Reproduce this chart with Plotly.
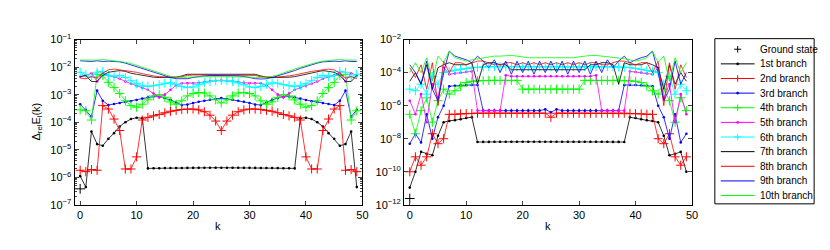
import plotly.graph_objects as go

k = list(range(50))

# ---------------- left panel data ----------------
L_ground = [3.8e-7]
L1 = [1.1e-6, 4.4e-7, 4.6e-5, 1.6e-5, 1.4e-5, 2.5e-5, 4e-5, 7e-5, 1.0e-4, 1.3e-4, 1.45e-4, 1.4e-4,
      2.1e-6, 2.12e-6, 2.13e-6, 2.15e-6, 2.16e-6, 2.17e-6, 2.18e-6, 2.19e-6, 2.2e-6, 2.2e-6, 2.21e-6,
      2.21e-6, 2.22e-6, 2.22e-6, 2.22e-6, 2.21e-6, 2.21e-6, 2.2e-6, 2.2e-6, 2.19e-6, 2.18e-6, 2.17e-6,
      2.16e-6, 2.15e-6, 2.13e-6, 2.12e-6, 2.1e-6, 1.4e-4, 1.45e-4, 1.3e-4, 1.0e-4, 7e-5, 4e-5, 2.5e-5,
      1.4e-5, 1.6e-5, 4.6e-5, 4.4e-7]
L2 = [1.8e-6, 1.6e-6, 1.9e-6, 1.8e-6, 4e-4, 3e-4, 1.3e-4, 5e-5, 2e-6, 2e-6, 5.5e-6, 1.2e-4, 1.5e-4,
      1.7e-4, 1.9e-4, 2.2e-4, 2.5e-4, 2.7e-4, 2.9e-4, 3e-4, 3e-4, 2.8e-4, 2.4e-4, 1.8e-4, 1.1e-4, 5e-5,
      1.1e-4, 1.8e-4, 2.4e-4, 2.8e-4, 3e-4, 3e-4, 2.9e-4, 2.7e-4, 2.5e-4, 2.2e-4, 1.9e-4, 1.7e-4, 1.5e-4,
      1.2e-4, 5.5e-6, 2e-6, 2e-6, 5e-5, 1.3e-4, 3e-4, 4e-4, 1.8e-6, 1.9e-6, 1.6e-6]
L3 = [4.5e-4, 2.8e-4, 1.6e-4, 1.4e-3, 6e-4, 4.2e-4, 4.6e-4, 5e-4, 5.4e-4, 5.8e-4, 6.4e-4, 7.2e-4, 8e-4,
      8.6e-4, 8.3e-4, 7.5e-4, 6.5e-4, 5.2e-4, 4.2e-4, 4.4e-4, 5e-4, 5.5e-4, 6e-4, 6.5e-4, 7e-4, 7.5e-4,
      7e-4, 6.5e-4, 6e-4, 5.5e-4, 5e-4, 4.4e-4, 4.2e-4, 5.2e-4, 6.5e-4, 7.5e-4, 8.3e-4, 8.6e-4, 8e-4,
      7.2e-4, 6.4e-4, 5.8e-4, 5.4e-4, 5e-4, 4.6e-4, 4.2e-4, 6e-4, 1.4e-3, 1.6e-4, 2.8e-4]
L4 = [2.8e-4, 2.6e-4, 1.2e-4, 5.5e-3, 5e-3, 2.8e-3, 1.8e-3, 1.1e-3, 6e-4, 4e-4, 3.5e-4, 4.5e-4, 6.5e-4,
      9e-4, 1.0e-3, 8e-4, 5.5e-4, 4.5e-4, 6e-4, 9e-4, 1.1e-3, 1.2e-3, 1.15e-3, 9e-4, 6.5e-4, 5e-4,
      6.5e-4, 9e-4, 1.15e-3, 1.2e-3, 1.1e-3, 9e-4, 6e-4, 4.5e-4, 5.5e-4, 8e-4, 1.0e-3, 9e-4, 6.5e-4,
      4.5e-4, 3.5e-4, 4e-4, 6e-4, 1.1e-3, 1.8e-3, 2.8e-3, 5e-3, 5.5e-3, 1.2e-4, 2.6e-4]
L5 = [4.5e-3, 5e-3, 6e-3, 3e-3, 6e-3, 5e-3, 4.5e-3, 3.8e-3, 3e-3, 2.5e-3, 2.1e-3, 1.8e-3, 1.5e-3,
      1.1e-3, 8e-4, 1.0e-3, 1.5e-3, 2.2e-3, 2.6e-3, 2.6e-3, 2.6e-3, 2.7e-3, 2.9e-3, 3.1e-3, 3.2e-3,
      3.3e-3, 3.2e-3, 3.1e-3, 2.9e-3, 2.7e-3, 2.6e-3, 2.6e-3, 2.6e-3, 2.2e-3, 1.5e-3, 1.0e-3, 8e-4,
      1.1e-3, 1.5e-3, 1.8e-3, 2.1e-3, 2.5e-3, 3e-3, 3.8e-3, 4.5e-3, 5e-3, 6e-3, 3e-3, 6e-3, 5e-3]
L6 = [6.5e-3, 5.5e-3, 4.5e-3, 6.5e-3, 7e-3, 5e-3, 4.5e-3, 5e-3, 4.2e-3, 3.2e-3, 2.5e-3, 2.1e-3, 2e-3,
      2.1e-3, 2.3e-3, 2.6e-3, 2.7e-3, 2.4e-3, 2e-3, 1.8e-3, 1.9e-3, 2.3e-3, 2.7e-3, 3e-3, 3.2e-3,
      3.3e-3, 3.2e-3, 3e-3, 2.7e-3, 2.3e-3, 1.9e-3, 1.8e-3, 2e-3, 2.4e-3, 2.7e-3, 2.6e-3, 2.3e-3,
      2.1e-3, 2e-3, 2.1e-3, 2.5e-3, 3.2e-3, 4.2e-3, 5e-3, 4.5e-3, 5e-3, 7e-3, 6.5e-3, 4.5e-3, 5.5e-3]
L7 = [4.5e-3, 5e-3, 3e-3, 3e-3, 5e-3, 6.5e-3, 7e-3, 7.5e-3, 7e-3, 6e-3, 5.5e-3, 5e-3, 4.5e-3, 4.3e-3,
      4.2e-3, 4.2e-3, 4.2e-3, 4.3e-3, 4.8e-3, 5.5e-3, 5.5e-3, 5.5e-3, 5.5e-3, 5.5e-3, 5.5e-3, 5.5e-3,
      5.5e-3, 5.5e-3, 5.5e-3, 5.5e-3, 5.5e-3, 5.5e-3, 4.8e-3, 4.3e-3, 4.2e-3, 4.2e-3, 4.2e-3, 4.3e-3,
      4.5e-3, 5e-3, 5.5e-3, 6e-3, 7e-3, 7.5e-3, 7e-3, 6.5e-3, 5e-3, 3e-3, 3e-3, 5e-3]
L8 = [4e-3, 3.8e-3, 4.5e-3, 4e-3, 6e-3, 8e-3, 8.5e-3, 8e-3, 7.5e-3, 7e-3, 6.5e-3, 5.8e-3, 5.2e-3,
      4.8e-3, 4.5e-3, 4.4e-3, 4.3e-3, 4.3e-3, 4.5e-3, 5e-3, 5.2e-3, 5.2e-3, 5.2e-3, 5.2e-3, 5.2e-3,
      5.2e-3, 5.2e-3, 5.2e-3, 5.2e-3, 5.2e-3, 5.2e-3, 5e-3, 4.5e-3, 4.3e-3, 4.3e-3, 4.4e-3, 4.5e-3,
      4.8e-3, 5.2e-3, 5.8e-3, 6.5e-3, 7e-3, 7.5e-3, 8e-3, 8.5e-3, 8e-3, 6e-3, 4e-3, 4.5e-3, 3.8e-3]
L9 = [1.7e-2, 1.6e-2, 1.6e-2, 1.7e-2, 1.6e-2, 1.65e-2, 1.6e-2, 1.55e-2, 1.4e-2, 1.2e-2, 1.05e-2, 9e-3,
      7.5e-3, 6.5e-3, 5.5e-3, 4.8e-3, 4.2e-3, 3.8e-3, 3.7e-3, 3.8e-3, 4.2e-3, 4.6e-3, 4.8e-3, 5e-3,
      5e-3, 5e-3, 5e-3, 5e-3, 4.8e-3, 4.6e-3, 4.2e-3, 3.8e-3, 3.7e-3, 3.8e-3, 4.2e-3, 4.8e-3, 5.5e-3,
      6.5e-3, 7.5e-3, 9e-3, 1.05e-2, 1.2e-2, 1.4e-2, 1.55e-2, 1.6e-2, 1.65e-2, 1.6e-2, 1.7e-2, 1.6e-2, 1.6e-2]
L10 = [1.8e-2, 1.8e-2, 1.75e-2, 1.8e-2, 1.9e-2, 1.8e-2, 1.75e-2, 1.65e-2, 1.5e-2, 1.35e-2, 1.15e-2,
       1e-2, 8.5e-3, 7e-3, 6e-3, 5.2e-3, 4.6e-3, 4.3e-3, 4.2e-3, 4.3e-3, 4.4e-3, 4.5e-3, 4.5e-3, 4.5e-3,
       4.5e-3, 4.5e-3, 4.5e-3, 4.5e-3, 4.5e-3, 4.5e-3, 4.4e-3, 4.3e-3, 4.2e-3, 4.3e-3, 4.6e-3, 5.2e-3,
       6e-3, 7e-3, 8.5e-3, 1e-2, 1.15e-2, 1.35e-2, 1.5e-2, 1.65e-2, 1.75e-2, 1.8e-2, 1.9e-2, 1.8e-2,
       1.75e-2, 1.8e-2]

# ---------------- right panel data ----------------
R_ground = [2.4e-12]
R1 = [1.1e-11, 1e-10, 1.6e-9, 1.2e-9, 1e-9, 1.5e-8, 1e-7, 1.2e-7, 1.3e-7, 1.5e-7, 1.8e-7, 2e-7,
      6.3e-9, 6.4e-9, 6.4e-9, 6.5e-9, 6.5e-9, 6.5e-9, 6.5e-9, 6.5e-9, 6.5e-9, 6.5e-9, 6.5e-9, 6.5e-9,
      6.5e-9, 6.5e-9, 6.5e-9, 6.5e-9, 6.5e-9, 6.5e-9, 6.5e-9, 6.5e-9, 6.5e-9, 6.5e-9, 6.5e-9, 6.5e-9,
      6.4e-9, 6.4e-9, 6.3e-9, 2e-7, 1.8e-7, 1.5e-7, 1.3e-7, 1.2e-7, 1e-7, 1.5e-8, 1e-9, 1.2e-9, 1.6e-9, 1e-10]
R2 = [1e-10, 8e-10, 2.5e-10, 8e-10, 2e-8, 5e-9, 1e-8, 3e-7, 3e-7, 3.2e-7, 3.3e-7, 3.4e-7, 3.5e-7,
      3.5e-7, 3.5e-7, 3.5e-7, 3.5e-7, 3.5e-7, 3.5e-7, 3.5e-7, 3.5e-7, 3.5e-7, 3.5e-7, 3.5e-7, 3.5e-7,
      2e-7, 3.5e-7, 3.5e-7, 3.5e-7, 3.5e-7, 3.5e-7, 3.5e-7, 3.5e-7, 3.5e-7, 3.5e-7, 3.5e-7, 3.5e-7,
      3.5e-7, 3.5e-7, 3.4e-7, 3.3e-7, 3.2e-7, 3e-7, 3e-7, 1e-8, 5e-9, 2e-8, 8e-10, 2.5e-10, 8e-10]
R3 = [5e-9, 2e-8, 6e-9, 3e-7, 1e-8, 2e-7, 1e-6, 1.5e-5, 1.6e-5, 1.7e-5, 1.8e-5, 1.8e-5, 1.8e-5,
      5e-7, 5e-7, 5e-7, 5e-7, 5e-7, 5e-7, 5e-7, 5e-7, 5e-7, 5e-7, 5e-7, 6e-7, 4e-7, 6e-7, 5e-7, 5e-7,
      5e-7, 5e-7, 5e-7, 5e-7, 5e-7, 5e-7, 5e-7, 5e-7, 5e-7, 1.8e-5, 1.8e-5, 1.8e-5, 1.7e-5, 1.6e-5,
      1.5e-5, 1e-6, 2e-7, 1e-8, 3e-7, 6e-9, 2e-8]
R4 = [3e-7, 2e-8, 5e-7, 3e-6, 1e-7, 2e-6, 1e-5, 5e-6, 8e-6, 1.5e-5, 2.5e-5, 3e-5, 3.2e-5, 3.3e-5,
      3.4e-5, 3.4e-5, 3.4e-5, 3.4e-5, 3.4e-5, 3.4e-5, 1e-5, 1e-5, 1e-5, 1e-5, 1e-5, 1e-5, 1e-5, 1e-5,
      1e-5, 1e-5, 1e-5, 3.4e-5, 3.4e-5, 3.4e-5, 3.4e-5, 3.4e-5, 3.4e-5, 3.4e-5, 3.3e-5, 3.2e-5, 3e-5,
      2.5e-5, 1.5e-5, 8e-6, 5e-6, 1e-5, 2e-6, 1e-7, 3e-6, 5e-7]
R5 = [2e-6, 3e-7, 5e-6, 1e-7, 2e-5, 3e-6, 2e-4, 8e-5, 9e-5, 1e-4, 1.1e-4, 1.2e-4, 5e-7, 5e-7, 5e-7,
      5e-7, 5e-7, 7e-5, 6e-5, 6e-5, 6e-5, 6e-5, 6e-5, 6e-5, 6e-5, 6e-5, 6e-5, 6e-5, 6e-5, 6e-5, 6e-5,
      6e-5, 6e-5, 7e-5, 5e-7, 5e-7, 5e-7, 5e-7, 5e-7, 1.2e-4, 1.1e-4, 1e-4, 9e-5, 8e-5, 2e-4, 3e-6,
      2e-5, 1e-7, 5e-6, 3e-7]
R6 = [1e-5, 8e-6, 2e-5, 5e-6, 6e-5, 2e-5, 1e-4, 1.2e-4, 1.4e-4, 1.6e-4, 1.8e-4, 2e-4, 2.1e-4, 2.2e-4,
      2.3e-4, 2.3e-4, 2.3e-4, 2.3e-4, 2.3e-4, 2.3e-4, 2.3e-4, 2.3e-4, 2.3e-4, 2.3e-4, 2.3e-4, 2.3e-4,
      2.3e-4, 2.3e-4, 2.3e-4, 2.3e-4, 2.3e-4, 2.3e-4, 2.3e-4, 2.3e-4, 2.3e-4, 2.3e-4, 2.3e-4, 2.2e-4,
      2.1e-4, 2e-4, 1.8e-4, 1.6e-4, 1.4e-4, 1.2e-4, 1e-4, 2e-5, 6e-5, 5e-6, 2e-5, 8e-6]
R7 = [3e-5, 1e-4, 2e-5, 3e-4, 1e-5, 2e-4, 3e-4, 4e-4, 3e-4, 3e-4, 3e-4, 4e-4, 2e-5, 3e-4, 4e-4, 4e-4,
      3e-4, 3e-4, 1.5e-4, 1.5e-4, 1.5e-4, 1.5e-4, 1.5e-4, 1.5e-4, 1.5e-4, 1.5e-4, 1.5e-4, 1.5e-4,
      1.5e-4, 1.5e-4, 1.5e-4, 1.5e-4, 3e-4, 3e-4, 4e-4, 4e-4, 3e-4, 2e-5, 4e-4, 3e-4, 3e-4, 3e-4,
      4e-4, 3e-4, 2e-4, 1e-5, 3e-4, 2e-5, 1e-4, 3e-5]
R8 = [2e-4, 5e-5, 3e-4, 1e-5, 4e-4, 1e-6, 5e-4, 1e-4, 4e-4, 4e-4, 3e-4, 4e-4, 5e-4, 5e-4, 4e-4, 3e-4,
      3e-4, 4e-4, 4e-4, 3e-4, 4e-4, 3e-4, 4e-4, 3e-4, 4e-4, 3e-4, 4e-4, 3e-4, 4e-4, 3e-4, 4e-4, 3e-4,
      4e-4, 4e-4, 3e-4, 3e-4, 4e-4, 5e-4, 5e-4, 4e-4, 3e-4, 4e-4, 4e-4, 1e-4, 5e-4, 1e-6, 4e-4, 1e-5,
      3e-4, 5e-5]
R9 = [3e-4, 1e-4, 2e-5, 5e-4, 1e-5, 2e-6, 1e-4, 2e-3, 1e-3, 8e-4, 6e-4, 4e-4, 1e-3, 5e-4, 2e-4,
      6e-4, 1e-4, 5e-4, 8e-5, 5e-4, 1e-4, 5e-4, 8e-5, 5e-4, 1e-4, 5e-4, 1e-4, 5e-4, 8e-5, 5e-4, 1e-4,
      5e-4, 8e-5, 5e-4, 1e-4, 6e-4, 2e-4, 5e-4, 1e-3, 4e-4, 6e-4, 8e-4, 1e-3, 2e-3, 1e-4, 2e-6, 1e-5,
      5e-4, 2e-5, 1e-4]
R10 = [1e-4, 4e-4, 1e-4, 8e-4, 3e-5, 1e-3, 4e-4, 2e-3, 8e-4, 6e-4, 5e-4, 6e-4, 7e-4, 8e-4, 9e-4,
       1e-3, 1e-3, 1.1e-3, 1.1e-3, 1e-3, 9e-4, 8e-4, 8e-4, 8e-4, 8e-4, 8e-4, 8e-4, 8e-4, 8e-4, 8e-4,
       9e-4, 1e-3, 1.1e-3, 1.1e-3, 1e-3, 1e-3, 9e-4, 8e-4, 7e-4, 6e-4, 5e-4, 6e-4, 8e-4, 2e-3, 4e-4,
       1e-3, 3e-5, 8e-4, 1e-4, 4e-4]

names = ["1st branch", "2nd branch", "3rd branch", "4th branch", "5th branch",
         "6th branch", "7th branch", "8th branch", "9th branch", "10th branch"]
colors = ["#000000", "#ff0000", "#0000ff", "#00ff00", "#ff00ff",
          "#00ffff", "#000000", "#ff0000", "#0000ff", "#00ff00"]
markers = ["dot", "plus", "dot", "plus", "dot", "plus", None, None, None, None]

left_series = [L1, L2, L3, L4, L5, L6, L7, L8, L9, L10]
right_series = [R1, R2, R3, R4, R5, R6, R7, R8, R9, R10]

W, H = 830, 250
fig = go.Figure()


def add_ground(vals, xa, ya):
    fig.add_trace(go.Scatter(
        x=[0], y=vals, mode="markers", name="Ground state", showlegend=False,
        marker=dict(symbol="cross-thin", size=7, color="#000000",
                    line=dict(width=1, color="#000000")),
        xaxis=xa, yaxis=ya))


def add_series(vals, i, xa, ya):
    m = markers[i]
    c = colors[i]
    if m is None:
        fig.add_trace(go.Scatter(x=k, y=vals, mode="lines", name=names[i], showlegend=False,
                                 line=dict(color=c, width=0.8), xaxis=xa, yaxis=ya))
    elif m == "dot":
        fig.add_trace(go.Scatter(x=k, y=vals, mode="lines+markers", name=names[i], showlegend=False,
                                 line=dict(color=c, width=0.8),
                                 marker=dict(symbol="circle", size=2.6, color=c),
                                 xaxis=xa, yaxis=ya))
    else:
        fig.add_trace(go.Scatter(x=k, y=vals, mode="lines+markers", name=names[i], showlegend=False,
                                 line=dict(color=c, width=0.8),
                                 marker=dict(symbol="cross-thin", size=6.5, color=c,
                                             line=dict(width=1, color=c)),
                                 xaxis=xa, yaxis=ya))


add_ground(L_ground, "x", "y")
for i, s in enumerate(left_series):
    add_series(s, i, "x", "y")
add_ground(R_ground, "x2", "y2")
for i, s in enumerate(right_series):
    add_series(s, i, "x2", "y2")

FAM = "Liberation Sans, Arial, sans-serif"
font = dict(family=FAM, size=11, color="#000000")

xax = dict(range=[-1, 50], tickvals=[0, 10, 20, 30, 40, 50], ticks="inside", ticklen=4,
           showline=True, linecolor="#000000", linewidth=1, mirror="ticks",
           showgrid=False, zeroline=False, tickfont=font)

left_minor = [m * 10.0 ** e for e in range(-7, -1) for m in range(2, 10)]


def px(x):
    return x / W


def py(y):
    return 1 - y / H


# ---------- legend (drawn as decorations in paper coordinates) ----------
shapes = [dict(type="rect", xref="paper", yref="paper", x0=px(712), x1=px(812), y0=py(199), y1=py(24),
               line=dict(color="#000000", width=1), fillcolor="white", layer="below")]
annotations = []
leg_names = ["Ground state"] + names
leg_colors = ["#000000"] + colors
leg_marks = ["plus"] + markers
row_y0, row_dy = 35.2, 15.5
for j, (nm, c, m) in enumerate(zip(leg_names, leg_colors, leg_marks)):
    yc = row_y0 + j * row_dy
    if j > 0:
        shapes.append(dict(type="line", xref="paper", yref="paper", x0=px(718), x1=px(752),
                           y0=py(yc), y1=py(yc), line=dict(color=c, width=1)))
    if m == "plus":
        shapes.append(dict(type="line", xref="paper", yref="paper", x0=px(731.5), x1=px(738.5),
                           y0=py(yc), y1=py(yc), line=dict(color=c, width=1)))
        shapes.append(dict(type="line", xref="paper", yref="paper", x0=px(735), x1=px(735),
                           y0=py(yc - 3.5), y1=py(yc + 3.5), line=dict(color=c, width=1)))
    elif m == "dot":
        shapes.append(dict(type="circle", xref="paper", yref="paper", x0=px(733.8), x1=px(736.2),
                           y0=py(yc + 1.2), y1=py(yc - 1.2), line=dict(color=c, width=0.5),
                           fillcolor=c))
    annotations.append(dict(text=nm, xref="paper", yref="paper", x=px(755), y=py(yc),
                            xanchor="left", yanchor="middle", showarrow=False,
                            font=dict(family=FAM, size=10, color="#000000")))

# axis titles
annotations.append(dict(text="Δ<sub>rel</sub>E<sub>l</sub>(k)", xref="paper", yref="paper",
                        x=px(29), y=py(112), textangle=-90, showarrow=False,
                        xanchor="center", yanchor="middle", font=font))
annotations.append(dict(text="k", xref="paper", yref="paper", x=px(212), y=py(222),
                        showarrow=False, xanchor="center", yanchor="middle", font=font))
annotations.append(dict(text="k", xref="paper", yref="paper", x=px(544), y=py(222),
                        showarrow=False, xanchor="center", yanchor="middle", font=font))

fig.update_layout(
    width=W, height=H,
    margin=dict(l=0, r=0, t=0, b=0),
    paper_bgcolor="white", plot_bgcolor="white",
    font=font,
    showlegend=False,
    xaxis=dict(domain=[px(67), px(357)], anchor="y", **xax),
    xaxis2=dict(domain=[px(399), px(689)], anchor="y2", **xax),
    yaxis=dict(type="log", range=[-7, -1], domain=[py(200), py(25)], anchor="x",
               tickvals=[10.0 ** e for e in range(-7, 0)],
               ticktext=["10<sup>−%d</sup>" % (-e) for e in range(-7, 0)],
               ticks="inside", ticklen=4, showline=True, linecolor="#000000", linewidth=1,
               mirror="ticks", showgrid=False, zeroline=False, tickfont=font,
               minor=dict(tickvals=left_minor, ticks="inside", ticklen=2, showgrid=False)),
    yaxis2=dict(type="log", range=[-12, -2], domain=[py(200), py(25)], anchor="x2",
                tickvals=[10.0 ** e for e in range(-12, -1, 2)],
                ticktext=["10<sup>−%d</sup>" % (-e) for e in range(-12, -1, 2)],
                ticks="inside", ticklen=4, showline=True, linecolor="#000000", linewidth=1,
                mirror="ticks", showgrid=False, zeroline=False, tickfont=font),
    shapes=shapes,
    annotations=annotations,
)

fig.write_html("out.html")
